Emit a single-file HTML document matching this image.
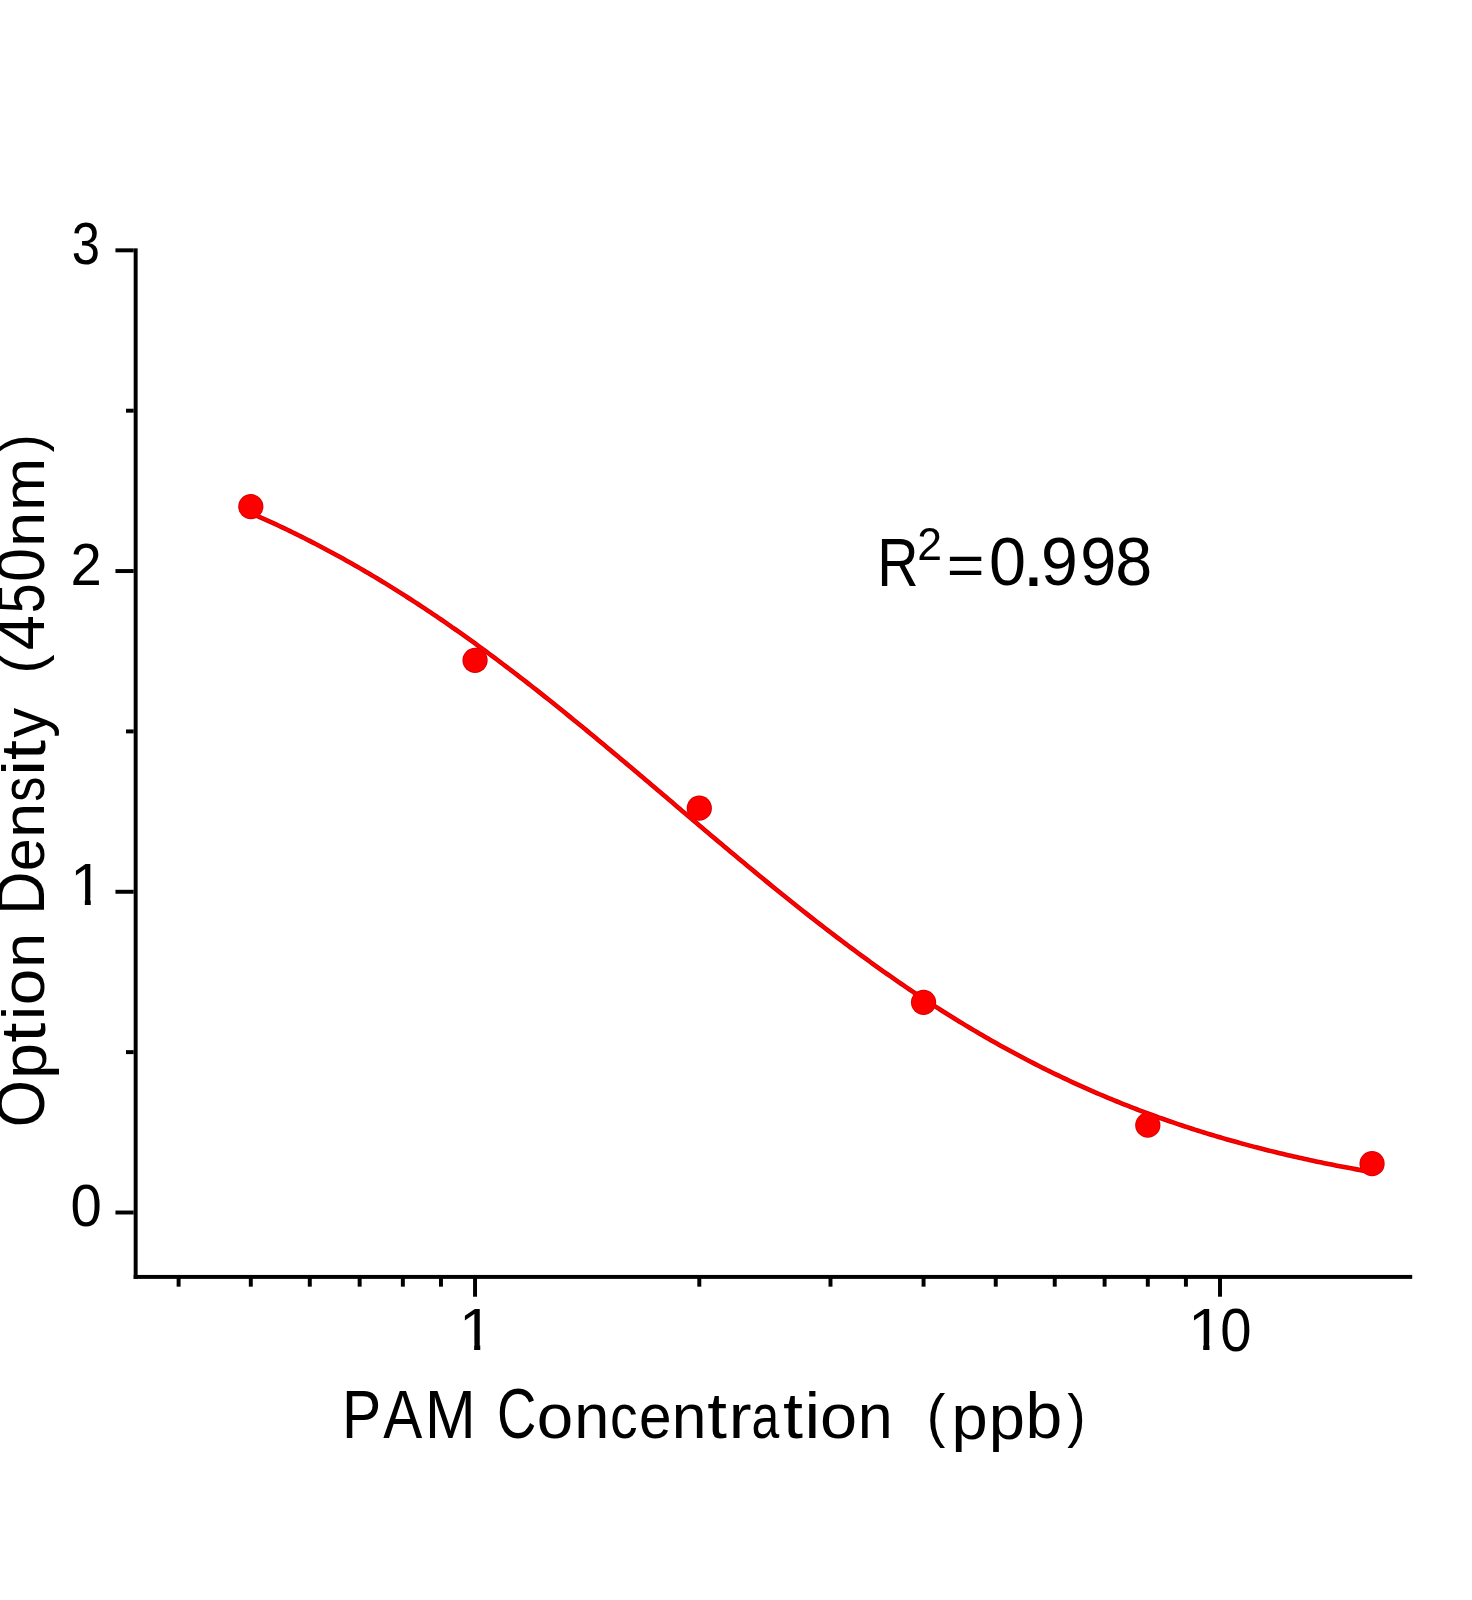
<!DOCTYPE html>
<html><head><meta charset="utf-8"><title>PAM Concentration chart</title>
<style>html,body{margin:0;padding:0;background:#fff;overflow:hidden}svg{display:block;will-change:transform}
text{font-family:"Liberation Sans",sans-serif}</style></head>
<body>
<svg width="1472" height="1600" viewBox="0 0 1472 1600">
<defs><clipPath id="c1" clipPathUnits="userSpaceOnUse"><rect x="24.561" y="-70.801" width="10.010" height="71.289"/><rect x="4.883" y="-70.801" width="48.828" height="59.570"/></clipPath></defs>
<rect width="1472" height="1600" fill="#fff"/>
<rect x="133.68" y="248.35" width="3.95" height="1030.50" fill="#000"/>
<rect x="133.68" y="1274.93" width="1278.53" height="3.95" fill="#000"/>
<rect x="115.45" y="1210.53" width="18.23" height="3.95" fill="#000"/>
<rect x="115.45" y="889.80" width="18.23" height="3.95" fill="#000"/>
<rect x="115.45" y="569.08" width="18.23" height="3.95" fill="#000"/>
<rect x="115.45" y="248.36" width="18.23" height="3.95" fill="#000"/>
<rect x="126.0" y="1050.16" width="7.68" height="3.95" fill="#000"/>
<rect x="126.0" y="729.44" width="7.68" height="3.95" fill="#000"/>
<rect x="126.0" y="408.72" width="7.68" height="3.95" fill="#000"/>
<rect x="473.07" y="1277.88" width="3.95" height="18.83" fill="#000"/>
<rect x="1218.03" y="1277.88" width="3.95" height="18.83" fill="#000"/>
<rect x="176.63" y="1277.88" width="3.95" height="8.78" fill="#000"/>
<rect x="248.82" y="1277.88" width="3.95" height="8.78" fill="#000"/>
<rect x="307.81" y="1277.88" width="3.95" height="8.78" fill="#000"/>
<rect x="357.68" y="1277.88" width="3.95" height="8.78" fill="#000"/>
<rect x="400.88" y="1277.88" width="3.95" height="8.78" fill="#000"/>
<rect x="438.99" y="1277.88" width="3.95" height="8.78" fill="#000"/>
<rect x="697.33" y="1277.88" width="3.95" height="8.78" fill="#000"/>
<rect x="828.51" y="1277.88" width="3.95" height="8.78" fill="#000"/>
<rect x="921.58" y="1277.88" width="3.95" height="8.78" fill="#000"/>
<rect x="993.77" y="1277.88" width="3.95" height="8.78" fill="#000"/>
<rect x="1052.76" y="1277.88" width="3.95" height="8.78" fill="#000"/>
<rect x="1102.63" y="1277.88" width="3.95" height="8.78" fill="#000"/>
<rect x="1145.83" y="1277.88" width="3.95" height="8.78" fill="#000"/>
<rect x="1183.94" y="1277.88" width="3.95" height="8.78" fill="#000"/>
<g fill="#d60000"><polyline points="250.80,513.07 253.60,514.30 256.40,515.53 259.21,516.78 262.01,518.03 264.81,519.29 267.62,520.57 270.42,521.85 273.22,523.15 276.03,524.45 278.83,525.77 281.63,527.09 284.44,528.42 287.24,529.77 290.04,531.12 292.85,532.49 295.65,533.87 298.45,535.25 301.25,536.65 304.06,538.05 306.86,539.47 309.66,540.90 312.47,542.34 315.27,543.79 318.07,545.24 320.88,546.71 323.68,548.19 326.48,549.68 329.29,551.18 332.09,552.69 334.89,554.22 337.70,555.75 340.50,557.29 343.30,558.84 346.10,560.41 348.91,561.98 351.71,563.57 354.51,565.16 357.32,566.77 360.12,568.38 362.92,570.01 365.73,571.65 368.53,573.29 371.33,574.95 374.14,576.62 376.94,578.30 379.74,579.99 382.55,581.69 385.35,583.40 388.15,585.12 390.96,586.85 393.76,588.60 396.56,590.35 399.36,592.11 402.17,593.89 404.97,595.67 407.77,597.46 410.58,599.27 413.38,601.08 416.18,602.90 418.99,604.74 421.79,606.58 424.59,608.44 427.40,610.30 430.20,612.18 433.00,614.06 435.81,615.96 438.61,617.86 441.41,619.77 444.22,621.70 447.02,623.63 449.82,625.57 452.62,627.53 455.43,629.49 458.23,631.46 461.03,633.44 463.84,635.43 466.64,637.43 469.44,639.44 472.25,641.45 475.05,643.48 477.85,645.52 480.66,647.56 483.46,649.61 486.26,651.68 489.07,653.75 491.87,655.83 494.67,657.91 497.48,660.01 500.28,662.11 503.08,664.23 505.88,666.35 508.69,668.48 511.49,670.61 514.29,672.76 517.10,674.91 519.90,677.07 522.70,679.24 525.51,681.41 528.31,683.59 531.11,685.78 533.92,687.98 536.72,690.18 539.52,692.39 542.33,694.61 545.13,696.83 547.93,699.06 550.74,701.30 553.54,703.54 556.34,705.79 559.14,708.05 561.95,710.31 564.75,712.58 567.55,714.85 570.36,717.13 573.16,719.41 575.96,721.70 578.77,723.99 581.57,726.29 584.37,728.59 587.18,730.90 589.98,733.21 592.78,735.53 595.59,737.85 598.39,740.18 601.19,742.51 604.00,744.84 606.80,747.18 609.60,749.52 612.40,751.87 615.21,754.21 618.01,756.56 620.81,758.92 623.62,761.27 626.42,763.63 629.22,766.00 632.03,768.36 634.83,770.73 637.63,773.10 640.44,775.47 643.24,777.84 646.04,780.21 648.85,782.59 651.65,784.96 654.45,787.34 657.25,789.72 660.06,792.10 662.86,794.48 665.66,796.86 668.47,799.24 671.27,801.62 674.07,804.00 676.88,806.39 679.68,808.77 682.48,811.15 685.29,813.53 688.09,815.91 690.89,818.29 693.70,820.66 696.50,823.04 699.30,825.41 702.11,827.79 704.91,830.16 707.71,832.53 710.51,834.90 713.32,837.26 716.12,839.63 718.92,841.99 721.73,844.34 724.53,846.70 727.33,849.05 730.14,851.40 732.94,853.75 735.74,856.09 738.55,858.43 741.35,860.77 744.15,863.10 746.96,865.43 749.76,867.75 752.56,870.07 755.37,872.39 758.17,874.70 760.97,877.00 763.77,879.31 766.58,881.60 769.38,883.89 772.18,886.18 774.99,888.46 777.79,890.74 780.59,893.01 783.40,895.27 786.20,897.53 789.00,899.78 791.81,902.03 794.61,904.27 797.41,906.50 800.22,908.73 803.02,910.95 805.82,913.17 808.63,915.37 811.43,917.57 814.23,919.77 817.03,921.95 819.84,924.13 822.64,926.30 825.44,928.47 828.25,930.63 831.05,932.77 833.85,934.92 836.66,937.05 839.46,939.17 842.26,941.29 845.07,943.40 847.87,945.50 850.67,947.60 853.48,949.68 856.28,951.76 859.08,953.82 861.89,955.88 864.69,957.93 867.49,959.97 870.29,962.00 873.10,964.03 875.90,966.04 878.70,968.04 881.51,970.04 884.31,972.03 887.11,974.00 889.92,975.97 892.72,977.93 895.52,979.88 898.33,981.82 901.13,983.75 903.93,985.67 906.74,987.58 909.54,989.48 912.34,991.37 915.15,993.25 917.95,995.12 920.75,996.98 923.55,998.83 926.36,1000.67 929.16,1002.50 931.96,1004.32 934.77,1006.13 937.57,1007.93 940.37,1009.72 943.18,1011.50 945.98,1013.26 948.78,1015.02 951.59,1016.77 954.39,1018.51 957.19,1020.24 960.00,1021.95 962.80,1023.66 965.60,1025.36 968.41,1027.04 971.21,1028.72 974.01,1030.38 976.81,1032.04 979.62,1033.68 982.42,1035.31 985.22,1036.93 988.03,1038.55 990.83,1040.15 993.63,1041.74 996.44,1043.32 999.24,1044.89 1002.04,1046.45 1004.85,1048.00 1007.65,1049.54 1010.45,1051.06 1013.26,1052.58 1016.06,1054.09 1018.86,1055.58 1021.66,1057.07 1024.47,1058.54 1027.27,1060.01 1030.07,1061.46 1032.88,1062.91 1035.68,1064.34 1038.48,1065.76 1041.29,1067.18 1044.09,1068.58 1046.89,1069.97 1049.70,1071.35 1052.50,1072.72 1055.30,1074.08 1058.11,1075.44 1060.91,1076.78 1063.71,1078.11 1066.52,1079.43 1069.32,1080.74 1072.12,1082.04 1074.92,1083.33 1077.73,1084.61 1080.53,1085.88 1083.33,1087.14 1086.14,1088.39 1088.94,1089.63 1091.74,1090.86 1094.55,1092.08 1097.35,1093.29 1100.15,1094.49 1102.96,1095.68 1105.76,1096.87 1108.56,1098.04 1111.37,1099.20 1114.17,1100.35 1116.97,1101.50 1119.78,1102.63 1122.58,1103.76 1125.38,1104.87 1128.18,1105.98 1130.99,1107.07 1133.79,1108.16 1136.59,1109.24 1139.40,1110.31 1142.20,1111.37 1145.00,1112.42 1147.81,1113.46 1150.61,1114.49 1153.41,1115.52 1156.22,1116.53 1159.02,1117.54 1161.82,1118.54 1164.63,1119.53 1167.43,1120.51 1170.23,1121.48 1173.04,1122.44 1175.84,1123.40 1178.64,1124.34 1181.44,1125.28 1184.25,1126.21 1187.05,1127.13 1189.85,1128.04 1192.66,1128.95 1195.46,1129.84 1198.26,1130.73 1201.07,1131.61 1203.87,1132.48 1206.67,1133.35 1209.48,1134.20 1212.28,1135.05 1215.08,1135.89 1217.89,1136.72 1220.69,1137.55 1223.49,1138.37 1226.30,1139.18 1229.10,1139.98 1231.90,1140.77 1234.70,1141.56 1237.51,1142.34 1240.31,1143.11 1243.11,1143.88 1245.92,1144.64 1248.72,1145.39 1251.52,1146.13 1254.33,1146.87 1257.13,1147.60 1259.93,1148.32 1262.74,1149.04 1265.54,1149.75 1268.34,1150.45 1271.15,1151.14 1273.95,1151.83 1276.75,1152.52 1279.56,1153.19 1282.36,1153.86 1285.16,1154.52 1287.96,1155.18 1290.77,1155.83 1293.57,1156.47 1296.37,1157.11 1299.18,1157.74 1301.98,1158.36 1304.78,1158.98 1307.59,1159.59 1310.39,1160.20 1313.19,1160.80 1316.00,1161.40 1318.80,1161.98 1321.60,1162.57 1324.41,1163.14 1327.21,1163.71 1330.01,1164.28 1332.82,1164.84 1335.62,1165.39 1338.42,1165.94 1341.22,1166.48 1344.03,1167.02 1346.83,1167.55 1349.63,1168.08 1352.44,1168.60 1355.24,1169.12 1358.04,1169.63 1360.85,1170.14 1363.65,1170.64 1366.45,1171.13 1369.26,1171.62 1372.06,1172.11" fill="none" stroke="#d60000" stroke-width="4.6" stroke-linejoin="round" stroke-linecap="round"/>
<circle cx="250.80" cy="506.70" r="12.6"/>
<circle cx="475.05" cy="660.30" r="12.6"/>
<circle cx="699.30" cy="808.20" r="12.6"/>
<circle cx="923.55" cy="1002.30" r="12.6"/>
<circle cx="1147.81" cy="1125.20" r="12.6"/>
<circle cx="1372.06" cy="1163.70" r="12.6"/>
</g>
<g fill="#ff0000"><polyline points="250.80,513.07 253.60,514.30 256.40,515.53 259.21,516.78 262.01,518.03 264.81,519.29 267.62,520.57 270.42,521.85 273.22,523.15 276.03,524.45 278.83,525.77 281.63,527.09 284.44,528.42 287.24,529.77 290.04,531.12 292.85,532.49 295.65,533.87 298.45,535.25 301.25,536.65 304.06,538.05 306.86,539.47 309.66,540.90 312.47,542.34 315.27,543.79 318.07,545.24 320.88,546.71 323.68,548.19 326.48,549.68 329.29,551.18 332.09,552.69 334.89,554.22 337.70,555.75 340.50,557.29 343.30,558.84 346.10,560.41 348.91,561.98 351.71,563.57 354.51,565.16 357.32,566.77 360.12,568.38 362.92,570.01 365.73,571.65 368.53,573.29 371.33,574.95 374.14,576.62 376.94,578.30 379.74,579.99 382.55,581.69 385.35,583.40 388.15,585.12 390.96,586.85 393.76,588.60 396.56,590.35 399.36,592.11 402.17,593.89 404.97,595.67 407.77,597.46 410.58,599.27 413.38,601.08 416.18,602.90 418.99,604.74 421.79,606.58 424.59,608.44 427.40,610.30 430.20,612.18 433.00,614.06 435.81,615.96 438.61,617.86 441.41,619.77 444.22,621.70 447.02,623.63 449.82,625.57 452.62,627.53 455.43,629.49 458.23,631.46 461.03,633.44 463.84,635.43 466.64,637.43 469.44,639.44 472.25,641.45 475.05,643.48 477.85,645.52 480.66,647.56 483.46,649.61 486.26,651.68 489.07,653.75 491.87,655.83 494.67,657.91 497.48,660.01 500.28,662.11 503.08,664.23 505.88,666.35 508.69,668.48 511.49,670.61 514.29,672.76 517.10,674.91 519.90,677.07 522.70,679.24 525.51,681.41 528.31,683.59 531.11,685.78 533.92,687.98 536.72,690.18 539.52,692.39 542.33,694.61 545.13,696.83 547.93,699.06 550.74,701.30 553.54,703.54 556.34,705.79 559.14,708.05 561.95,710.31 564.75,712.58 567.55,714.85 570.36,717.13 573.16,719.41 575.96,721.70 578.77,723.99 581.57,726.29 584.37,728.59 587.18,730.90 589.98,733.21 592.78,735.53 595.59,737.85 598.39,740.18 601.19,742.51 604.00,744.84 606.80,747.18 609.60,749.52 612.40,751.87 615.21,754.21 618.01,756.56 620.81,758.92 623.62,761.27 626.42,763.63 629.22,766.00 632.03,768.36 634.83,770.73 637.63,773.10 640.44,775.47 643.24,777.84 646.04,780.21 648.85,782.59 651.65,784.96 654.45,787.34 657.25,789.72 660.06,792.10 662.86,794.48 665.66,796.86 668.47,799.24 671.27,801.62 674.07,804.00 676.88,806.39 679.68,808.77 682.48,811.15 685.29,813.53 688.09,815.91 690.89,818.29 693.70,820.66 696.50,823.04 699.30,825.41 702.11,827.79 704.91,830.16 707.71,832.53 710.51,834.90 713.32,837.26 716.12,839.63 718.92,841.99 721.73,844.34 724.53,846.70 727.33,849.05 730.14,851.40 732.94,853.75 735.74,856.09 738.55,858.43 741.35,860.77 744.15,863.10 746.96,865.43 749.76,867.75 752.56,870.07 755.37,872.39 758.17,874.70 760.97,877.00 763.77,879.31 766.58,881.60 769.38,883.89 772.18,886.18 774.99,888.46 777.79,890.74 780.59,893.01 783.40,895.27 786.20,897.53 789.00,899.78 791.81,902.03 794.61,904.27 797.41,906.50 800.22,908.73 803.02,910.95 805.82,913.17 808.63,915.37 811.43,917.57 814.23,919.77 817.03,921.95 819.84,924.13 822.64,926.30 825.44,928.47 828.25,930.63 831.05,932.77 833.85,934.92 836.66,937.05 839.46,939.17 842.26,941.29 845.07,943.40 847.87,945.50 850.67,947.60 853.48,949.68 856.28,951.76 859.08,953.82 861.89,955.88 864.69,957.93 867.49,959.97 870.29,962.00 873.10,964.03 875.90,966.04 878.70,968.04 881.51,970.04 884.31,972.03 887.11,974.00 889.92,975.97 892.72,977.93 895.52,979.88 898.33,981.82 901.13,983.75 903.93,985.67 906.74,987.58 909.54,989.48 912.34,991.37 915.15,993.25 917.95,995.12 920.75,996.98 923.55,998.83 926.36,1000.67 929.16,1002.50 931.96,1004.32 934.77,1006.13 937.57,1007.93 940.37,1009.72 943.18,1011.50 945.98,1013.26 948.78,1015.02 951.59,1016.77 954.39,1018.51 957.19,1020.24 960.00,1021.95 962.80,1023.66 965.60,1025.36 968.41,1027.04 971.21,1028.72 974.01,1030.38 976.81,1032.04 979.62,1033.68 982.42,1035.31 985.22,1036.93 988.03,1038.55 990.83,1040.15 993.63,1041.74 996.44,1043.32 999.24,1044.89 1002.04,1046.45 1004.85,1048.00 1007.65,1049.54 1010.45,1051.06 1013.26,1052.58 1016.06,1054.09 1018.86,1055.58 1021.66,1057.07 1024.47,1058.54 1027.27,1060.01 1030.07,1061.46 1032.88,1062.91 1035.68,1064.34 1038.48,1065.76 1041.29,1067.18 1044.09,1068.58 1046.89,1069.97 1049.70,1071.35 1052.50,1072.72 1055.30,1074.08 1058.11,1075.44 1060.91,1076.78 1063.71,1078.11 1066.52,1079.43 1069.32,1080.74 1072.12,1082.04 1074.92,1083.33 1077.73,1084.61 1080.53,1085.88 1083.33,1087.14 1086.14,1088.39 1088.94,1089.63 1091.74,1090.86 1094.55,1092.08 1097.35,1093.29 1100.15,1094.49 1102.96,1095.68 1105.76,1096.87 1108.56,1098.04 1111.37,1099.20 1114.17,1100.35 1116.97,1101.50 1119.78,1102.63 1122.58,1103.76 1125.38,1104.87 1128.18,1105.98 1130.99,1107.07 1133.79,1108.16 1136.59,1109.24 1139.40,1110.31 1142.20,1111.37 1145.00,1112.42 1147.81,1113.46 1150.61,1114.49 1153.41,1115.52 1156.22,1116.53 1159.02,1117.54 1161.82,1118.54 1164.63,1119.53 1167.43,1120.51 1170.23,1121.48 1173.04,1122.44 1175.84,1123.40 1178.64,1124.34 1181.44,1125.28 1184.25,1126.21 1187.05,1127.13 1189.85,1128.04 1192.66,1128.95 1195.46,1129.84 1198.26,1130.73 1201.07,1131.61 1203.87,1132.48 1206.67,1133.35 1209.48,1134.20 1212.28,1135.05 1215.08,1135.89 1217.89,1136.72 1220.69,1137.55 1223.49,1138.37 1226.30,1139.18 1229.10,1139.98 1231.90,1140.77 1234.70,1141.56 1237.51,1142.34 1240.31,1143.11 1243.11,1143.88 1245.92,1144.64 1248.72,1145.39 1251.52,1146.13 1254.33,1146.87 1257.13,1147.60 1259.93,1148.32 1262.74,1149.04 1265.54,1149.75 1268.34,1150.45 1271.15,1151.14 1273.95,1151.83 1276.75,1152.52 1279.56,1153.19 1282.36,1153.86 1285.16,1154.52 1287.96,1155.18 1290.77,1155.83 1293.57,1156.47 1296.37,1157.11 1299.18,1157.74 1301.98,1158.36 1304.78,1158.98 1307.59,1159.59 1310.39,1160.20 1313.19,1160.80 1316.00,1161.40 1318.80,1161.98 1321.60,1162.57 1324.41,1163.14 1327.21,1163.71 1330.01,1164.28 1332.82,1164.84 1335.62,1165.39 1338.42,1165.94 1341.22,1166.48 1344.03,1167.02 1346.83,1167.55 1349.63,1168.08 1352.44,1168.60 1355.24,1169.12 1358.04,1169.63 1360.85,1170.14 1363.65,1170.64 1366.45,1171.13 1369.26,1171.62 1372.06,1172.11" fill="none" stroke="#ff0000" stroke-width="2.70" stroke-linejoin="round" stroke-linecap="round"/>
<circle cx="250.80" cy="506.70" r="11.65"/>
<circle cx="475.05" cy="660.30" r="11.65"/>
<circle cx="699.30" cy="808.20" r="11.65"/>
<circle cx="923.55" cy="1002.30" r="11.65"/>
<circle cx="1147.81" cy="1125.20" r="11.65"/>
<circle cx="1372.06" cy="1163.70" r="11.65"/>
</g>
<g font-family="Liberation Sans, sans-serif" font-size="100.0" fill="#000">
<text transform="matrix(0.50831 0 0 0.58756 71.864 263.926)">3</text>
<text transform="matrix(0.56194 0 0 0.58905 70.524 584.700)">2</text>
<text transform="matrix(0.59101 0 0 0.59449 70.315 904.900)" clip-path="url(#c1)">1</text>
<text transform="matrix(0.56273 0 0 0.59039 70.502 1226.123)">0</text>
<text transform="matrix(0.61153 0 0 0.59594 459.118 1350.000)" clip-path="url(#c1)">1</text>
<text transform="matrix(0.62384 0 0 0.59594 1187.899 1350.000)" clip-path="url(#c1)">1</text>
<text transform="matrix(0.56273 0 0 0.60310 1220.202 1350.511)">0</text>
<text transform="matrix(0.58810 0 0 0.69333 341.876 1438.300)">P</text>
<text transform="matrix(0.58514 0 0 0.69333 383.186 1438.300)">A</text>
<text transform="matrix(0.60842 0 0 0.69333 425.009 1438.300)">M</text>
<text transform="matrix(0.54476 0 0 0.69632 497.034 1438.420)">C</text>
<text transform="matrix(0.65443 0 0 0.62973 536.852 1438.485)">o</text>
<text transform="matrix(0.63088 0 0 0.62258 574.311 1438.300)">n</text>
<text transform="matrix(0.55201 0 0 0.62973 610.055 1438.485)">c</text>
<text transform="matrix(0.58393 0 0 0.62973 639.019 1438.485)">e</text>
<text transform="matrix(0.62382 0 0 0.62258 671.857 1438.300)">n</text>
<text transform="matrix(0.70877 0 0 0.64497 707.327 1438.496)">t</text>
<text transform="matrix(0.68400 0 0 0.62258 728.858 1438.300)">r</text>
<text transform="matrix(0.49837 0 0 0.62973 751.583 1438.485)">a</text>
<text transform="matrix(0.72052 0 0 0.64497 783.109 1438.496)">t</text>
<text transform="matrix(0.70542 0 0 0.64587 804.381 1438.300)">i</text>
<text transform="matrix(0.66714 0 0 0.62973 819.899 1438.485)">o</text>
<text transform="matrix(0.62852 0 0 0.62258 857.826 1438.300)">n</text>
<text transform="matrix(0.55820 0 0 0.58392 926.838 1435.511)">(</text>
<text transform="matrix(0.65154 0 0 0.63077 951.401 1438.710)">p</text>
<text transform="matrix(0.65154 0 0 0.63077 988.701 1438.710)">p</text>
<text transform="matrix(0.66043 0 0 0.65362 1025.543 1438.362)">b</text>
<text transform="matrix(0.55066 0 0 0.58392 1067.277 1435.511)">)</text>
<text transform="matrix(0.57263 0 0 0.68678 877.203 585.650)">R</text>
<text transform="matrix(0.44560 0 0 0.46832 917.259 559.600)">2</text>
<text transform="matrix(0.64630 0 0 0.57406 946.744 585.142)">=</text>
<text transform="matrix(0.66523 0 0 0.69067 989.001 585.426)">0</text>
<text transform="matrix(0.84021 0 0 0.79489 1021.828 586.100)">.</text>
<text transform="matrix(0.66246 0 0 0.69067 1041.095 585.426)">9</text>
<text transform="matrix(0.64947 0 0 0.69067 1080.256 585.426)">9</text>
<text transform="matrix(0.66491 0 0 0.69067 1115.311 585.426)">8</text>
<g transform="rotate(-90)">
<text transform="matrix(0.60722 0 0 0.69208 -1127.126 44.324)">O</text>
<text transform="matrix(0.64042 0 0 0.62675 -1078.828 45.894)">p</text>
<text transform="matrix(0.71660 0 0 0.62510 -1042.485 44.512)">t</text>
<text transform="matrix(0.63716 0 0 0.59756 -1020.062 44.300)">i</text>
<text transform="matrix(0.65655 0 0 0.60965 -1005.257 44.405)">o</text>
<text transform="matrix(0.62852 0 0 0.59656 -967.774 44.300)">n</text>
<text transform="matrix(0.59769 0 0 0.69333 -914.703 44.300)">D</text>
<text transform="matrix(0.58819 0 0 0.60965 -871.099 44.405)">e</text>
<text transform="matrix(0.62852 0 0 0.59656 -837.774 44.300)">n</text>
<text transform="matrix(0.50225 0 0 0.61129 -801.798 44.403)">s</text>
<text transform="matrix(0.70542 0 0 0.59756 -775.819 44.300)">i</text>
<text transform="matrix(0.72052 0 0 0.62510 -759.891 44.512)">t</text>
<text transform="matrix(0.59927 0 0 0.61834 -737.846 45.768)">y</text>
<text transform="matrix(0.57706 0 0 0.58392 -673.478 41.811)">(</text>
<text transform="matrix(0.63305 0 0 0.69333 -650.353 44.300)">4</text>
<text transform="matrix(0.53362 0 0 0.69365 -613.337 44.323)">5</text>
<text transform="matrix(0.60457 0 0 0.69208 -581.662 44.324)">0</text>
<text transform="matrix(0.62852 0 0 0.59656 -546.774 44.300)">n</text>
<text transform="matrix(0.63795 0 0 0.59656 -511.036 44.300)">m</text>
<text transform="matrix(0.53934 0 0 0.58392 -452.216 41.811)">)</text>
</g>
</g>
</svg>
</body></html>
